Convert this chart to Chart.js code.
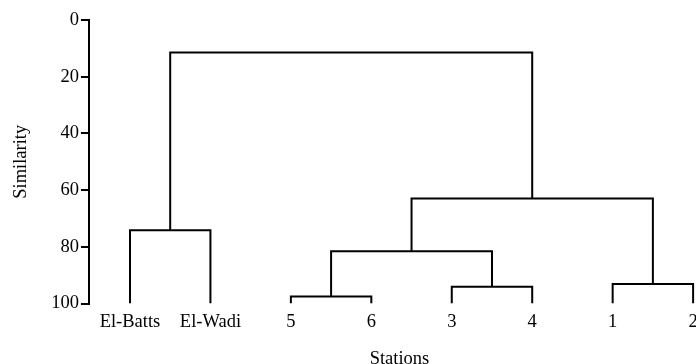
<!DOCTYPE html>
<html>
<head>
<meta charset="utf-8">
<script src="https://cdn.jsdelivr.net/npm/chart.js@4/dist/chart.umd.min.js"></script>
<style>
  html, body { margin: 0; padding: 0; background: #fff; overflow: hidden; }
  #wrap { width: 696px; height: 364px; overflow: hidden; }
</style>
</head>
<body>
<div id="wrap"><canvas id="dendro" width="710" height="370"></canvas></div>
<script>
// leaves in dendrogram order (left to right)
const stations = ['El-Batts', 'El-Wadi', '5', '6', '3', '4', '1', '2'];
const leafSimilarity = 100;

// merges, scipy style: indices < 8 are leaves, 8+ are earlier merges
const mergeLeft = [0, 2, 4, 6, 9, 12, 8];
const mergeRight = [1, 3, 5, 7, 10, 11, 13];
const mergeSimilarity = [74.1, 97.5, 94.1, 93.1, 81.5, 62.9, 11.5];

const yTicks = [0, 20, 40, 60, 80, 100];

// x position and height of every node (leaves first, then merges)
const nodeX = stations.map((s, i) => i);
const nodeY = stations.map(() => leafSimilarity);
mergeLeft.forEach((l, k) => {
    const r = mergeRight[k];
    nodeX.push((nodeX[l] + nodeX[r]) / 2);
    nodeY.push(mergeSimilarity[k]);
});

// one U shape per merge
const datasets = mergeLeft.map((l, k) => {
    const r = mergeRight[k];
    const h = mergeSimilarity[k];
    return {
        data: [
            { x: nodeX[l], y: nodeY[l] },
            { x: nodeX[l], y: h },
            { x: nodeX[r], y: h },
            { x: nodeX[r], y: nodeY[r] }
        ],
        showLine: true,
        borderColor: '#000',
        borderWidth: 2,
        borderJoinStyle: 'miter',
        pointRadius: 0,
        tension: 0
    };
});

const serif = { family: "'Liberation Serif', 'Times New Roman', serif", size: 18.5 };

new Chart(document.getElementById('dendro'), {
    type: 'scatter',
    data: { datasets: datasets },
    options: {
        responsive: false,
        animation: false,
        devicePixelRatio: 1,
        layout: { padding: { left: 6.5, top: 20, right: 0, bottom: 0 } },
        plugins: { legend: { display: false }, tooltip: { enabled: false } },
        scales: {
            x: {
                type: 'linear',
                min: -0.51,
                max: 7.21,
                afterBuildTicks: (scale) => {
                    scale.ticks = stations.map((s, i) => ({ value: i }));
                },
                ticks: {
                    color: '#000',
                    font: serif,
                    padding: 0,
                    maxRotation: 0,
                    autoSkip: false,
                    callback: (v) => stations[v]
                },
                grid: { display: false, drawTicks: true, tickLength: 7 },
                border: { display: false },
                title: {
                    display: true,
                    text: 'Stations',
                    color: '#000',
                    font: serif,
                    padding: { top: 15, bottom: 0 }
                }
            },
            y: {
                reverse: true,
                min: 0,
                max: 100,
                afterBuildTicks: (scale) => {
                    scale.ticks = yTicks.map(v => ({ value: v }));
                },
                ticks: { color: '#000', font: serif, padding: 2 },
                grid: {
                    drawOnChartArea: false,
                    drawTicks: true,
                    tickLength: 8,
                    color: '#000',
                    lineWidth: 2
                },
                border: { display: true, color: '#000', width: 2 },
                title: {
                    display: true,
                    text: 'Similarity',
                    color: '#000',
                    font: serif,
                    padding: { top: 4, bottom: 16.5 }
                }
            }
        }
    }
});
</script>
</body>
</html>
